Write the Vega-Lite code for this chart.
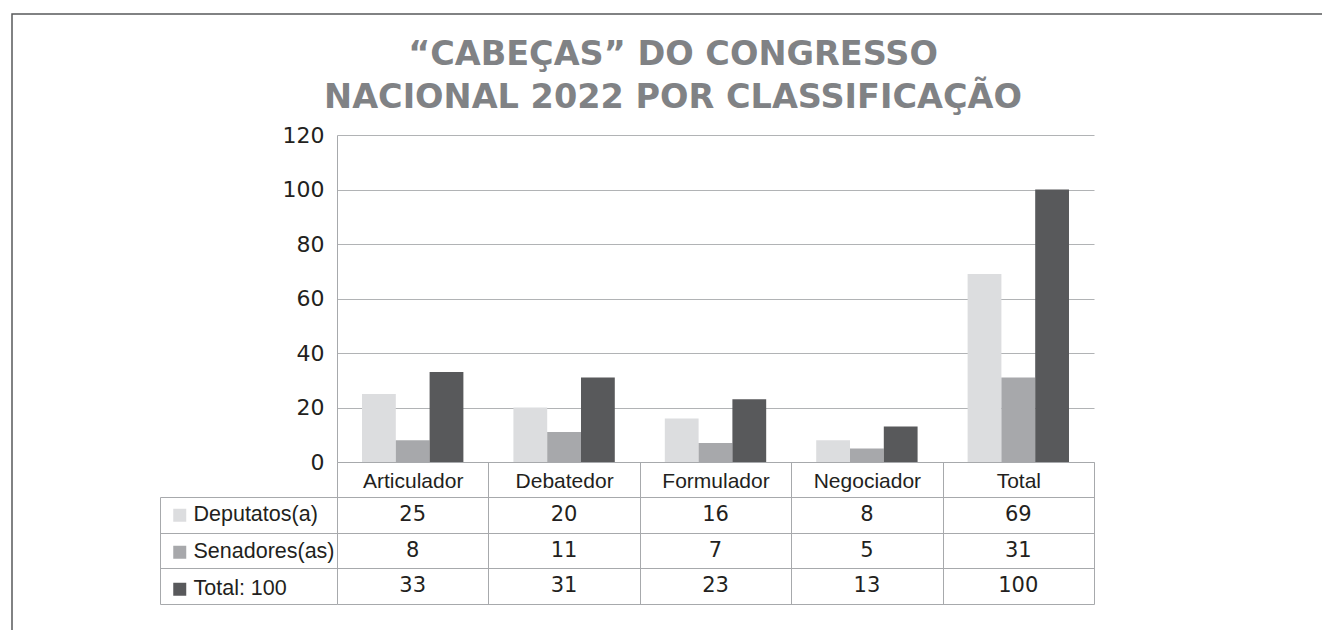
{
  "$schema": "https://vega.github.io/schema/vega-lite/v6.json",
  "autosize": {"type": "none"},
  "padding": {"left": 12, "top": 14, "right": 0, "bottom": 0},
  "width": 1322,
  "height": 630,
  "background": "white",
  "config": {
    "view": {"stroke": "#58595b", "strokeWidth": 1.5},
    "font": "Liberation Sans"
  },
  "title": {
    "text": ["“CABEÇAS” DO CONGRESSO", "NACIONAL 2022 POR CLASSIFICAÇÃO"],
    "font": "DejaVu Sans",
    "fontSize": 33.5,
    "fontWeight": "bold",
    "color": "#808285",
    "anchor": "middle",
    "frame": "group",
    "offset": -101,
    "baseline": "top",
    "lineHeight": 43
  },
  "data": {
    "values": [
      {"category": "Articulador", "series": "Deputatos(a)", "value": 25},
      {"category": "Articulador", "series": "Senadores(as)", "value": 8},
      {"category": "Articulador", "series": "Total: 100", "value": 33},
      {"category": "Debatedor", "series": "Deputatos(a)", "value": 20},
      {"category": "Debatedor", "series": "Senadores(as)", "value": 11},
      {"category": "Debatedor", "series": "Total: 100", "value": 31},
      {"category": "Formulador", "series": "Deputatos(a)", "value": 16},
      {"category": "Formulador", "series": "Senadores(as)", "value": 7},
      {"category": "Formulador", "series": "Total: 100", "value": 23},
      {"category": "Negociador", "series": "Deputatos(a)", "value": 8},
      {"category": "Negociador", "series": "Senadores(as)", "value": 5},
      {"category": "Negociador", "series": "Total: 100", "value": 13},
      {"category": "Total", "series": "Deputatos(a)", "value": 69},
      {"category": "Total", "series": "Senadores(as)", "value": 31},
      {"category": "Total", "series": "Total: 100", "value": 100}
    ]
  },
  "encoding": {
    "x": {
      "field": "category",
      "type": "nominal",
      "sort": ["Articulador", "Debatedor", "Formulador", "Negociador", "Total"],
      "scale": {"range": [325, 1082], "paddingInner": 0, "paddingOuter": 0},
      "axis": {
        "orient": "bottom",
        "offset": -182,
        "title": null,
        "domainColor": "#a7a9ac",
        "tickColor": "#a7a9ac",
        "tickSize": 142,
        "tickBand": "extent",
        "labelPadding": -117,
        "labelBaseline": "alphabetic",
        "labelFontSize": 21,
        "labelColor": "#231f20",
        "labelAngle": 0,
        "grid": false
      }
    }
  },
  "layer": [
    {
      "mark": {"type": "bar"},
      "encoding": {
        "xOffset": {
          "field": "series",
          "type": "nominal",
          "sort": ["Deputatos(a)", "Senadores(as)", "Total: 100"],
          "scale": {"paddingInner": 0, "paddingOuter": 0.74}
        },
        "y": {
          "field": "value",
          "type": "quantitative",
          "scale": {"domain": [0, 120], "range": [448, 121], "nice": false, "zero": true},
          "axis": {
            "orient": "left",
            "offset": -325,
            "title": null,
            "values": [0, 20, 40, 60, 80, 100, 120],
            "ticks": false,
            "labelPadding": 13,
            "labelFont": "DejaVu Sans",
            "labelFontSize": 22,
            "labelColor": "#231f20",
            "labelBaseline": "middle",
            "domainColor": "#a7a9ac",
            "grid": true,
            "gridColor": "#b1b3b5",
            "gridOpacity": 1
          }
        },
        "color": {
          "field": "series",
          "type": "nominal",
          "scale": {
            "domain": ["Deputatos(a)", "Senadores(as)", "Total: 100"],
            "range": ["#dcdddf", "#a7a8ab", "#58595b"]
          },
          "legend": {
            "orient": "none",
            "legendX": 157,
            "legendY": 490.5,
            "title": null,
            "symbolType": "square",
            "symbolSize": 169,
            "symbolStrokeWidth": 0,
            "symbolOpacity": 1,
            "labelFontSize": 21.5,
            "labelColor": "#231f20",
            "labelOffset": 3,
            "rowPadding": 14,
            "padding": 0
          }
        }
      }
    },
    {
      "mark": {"type": "text", "font": "DejaVu Sans", "fontSize": 21, "color": "#231f20", "baseline": "middle"},
      "encoding": {
        "y": {
          "field": "series",
          "type": "nominal",
          "scale": {
            "type": "band",
            "domain": ["Deputatos(a)", "Senadores(as)", "Total: 100"],
            "range": [483, 590],
            "paddingInner": 0,
            "paddingOuter": 0
          },
          "axis": {
            "orient": "left",
            "offset": -148,
            "title": null,
            "labels": false,
            "tickBand": "extent",
            "tickSize": -177,
            "tickColor": "#a7a9ac",
            "domainColor": "#a7a9ac",
            "grid": true,
            "gridColor": "#a7a9ac",
            "gridOpacity": 1
          }
        },
        "text": {"field": "value", "type": "quantitative"}
      }
    }
  ],
  "resolve": {"scale": {"y": "independent"}, "axis": {"y": "independent"}}
}
